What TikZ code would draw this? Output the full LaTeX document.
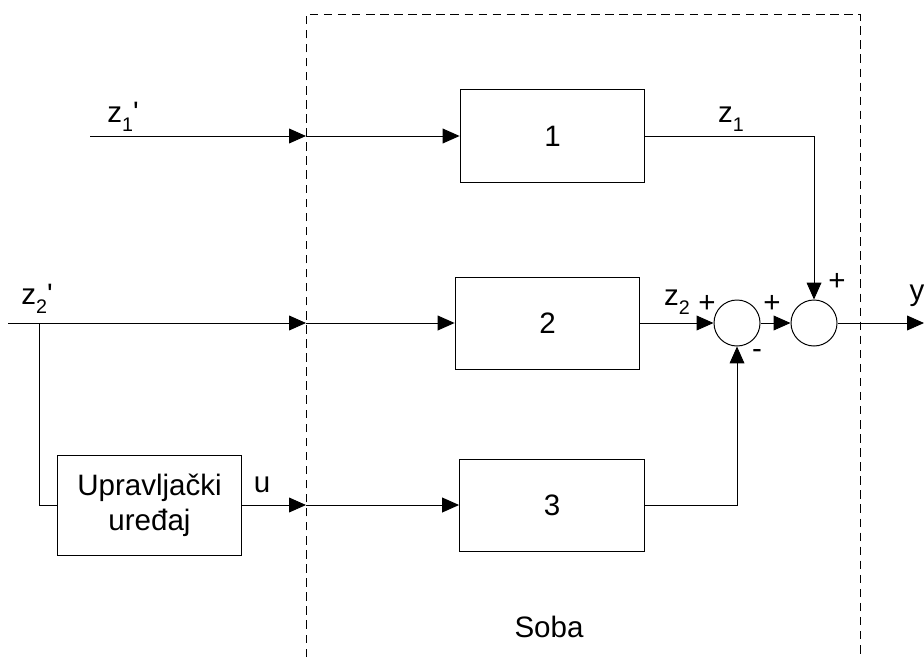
\documentclass[tikz,border=0pt]{standalone}
\usepackage{fontspec}
\setmainfont{Liberation Sans}
\usetikzlibrary{arrows.meta}
\def\blockw{4.62cm}
\def\blockh{2.3cm}
\newcommand{\lowsub}[1]{\raisebox{-0.55ex}{\fontsize{14}{14}\selectfont #1}}

\begin{document}
\begin{tikzpicture}[x=0.025cm, y=-0.025cm, line width=0.7pt,
        font=\fontsize{21}{25}\selectfont]
            \tikzstyle{signal}=[-{Triangle[length=12pt,width=10.5pt]}]
            \tikzstyle{block}=[draw, rectangle, minimum width=\blockw, minimum height=\blockh, inner sep=0pt]
            \tikzstyle{sum}=[draw, circle, minimum size=1.15cm, inner sep=0pt]
            \tikzstyle{annot}=[inner sep=1pt]

            \useasboundingbox (0,0) rectangle (924,657);

            % The room (dashed boundary, open at the bottom)
            \draw[dashed, dash pattern=on 6pt off 4pt] (306,657) |- (860,14) -- (860,657);
            \node[annot] (SOBA) at (549,627) {Soba};

            % Blocks
            \node[block] (B1) at (552.5,136) {1};
            \node[block] (B2) at (547.5,323) {2};
            \node[block] (B3) at (552,505) {3};
            \node[block, minimum width=4.62cm, minimum height=2.5cm, align=center] (U) at (149.5,505) {Upravljački\\uređaj};

            % Summing points
            \node[sum] (S1) at (737,323) {};
            \node[sum] (S2) at (814,323) {};

            % Inputs, crossing points on the room wall, output
            \coordinate (IN-1) at (90,136);
            \coordinate (IN-2) at (8,323);
            \coordinate (BR) at (39,323);
            \coordinate (OUT) at (924,323);
            \foreach \name / \y in {1/136,2/323,3/505}
                \coordinate (W-\name) at (306,\y);

            % Signals into the room
            \draw[signal] (IN-1) -- (W-1);
            \draw[signal] (IN-2) -- (W-2);
            \draw (BR) |- (U.west);
            \draw[signal] (U.east) -- (W-3);
            \foreach \name in {1,2,3}
                \draw[signal] (W-\name) -- (B\name.west);

            % Signals to the summing points
            \draw[signal] (B1.east) -| (S2.north);
            \draw[signal] (B2.east) -- (S1.west);
            \draw[signal] (B3.east) -| (S1.south);
            \draw[signal] (S1.east) -- (S2.west);
            \draw[signal] (S2.east) -- (OUT);

            % Annotate the signals
            \node[annot] (L-Z1P) at (123,117) {z\lowsub{1}\textquotesingle};
            \node[annot] (L-Z2P) at (37,299) {z\lowsub{2}\textquotesingle};
            \node[annot] (L-U) at (262,485) {u};
            \node[annot] (L-Z1) at (731,119) {z\lowsub{1}};
            \node[annot] (L-Z2) at (677,302) {z\lowsub{2}};
            \node[annot] (L-Y) at (917,296) {y};
            \node[annot] (P-1) at (707,304) {+};
            \node[annot] (P-2) at (772,304) {+};
            \node[annot] (P-3) at (837,282) {+};
            \node[annot] (M-1) at (757,354) {-};
        \end{tikzpicture}
\end{document}
